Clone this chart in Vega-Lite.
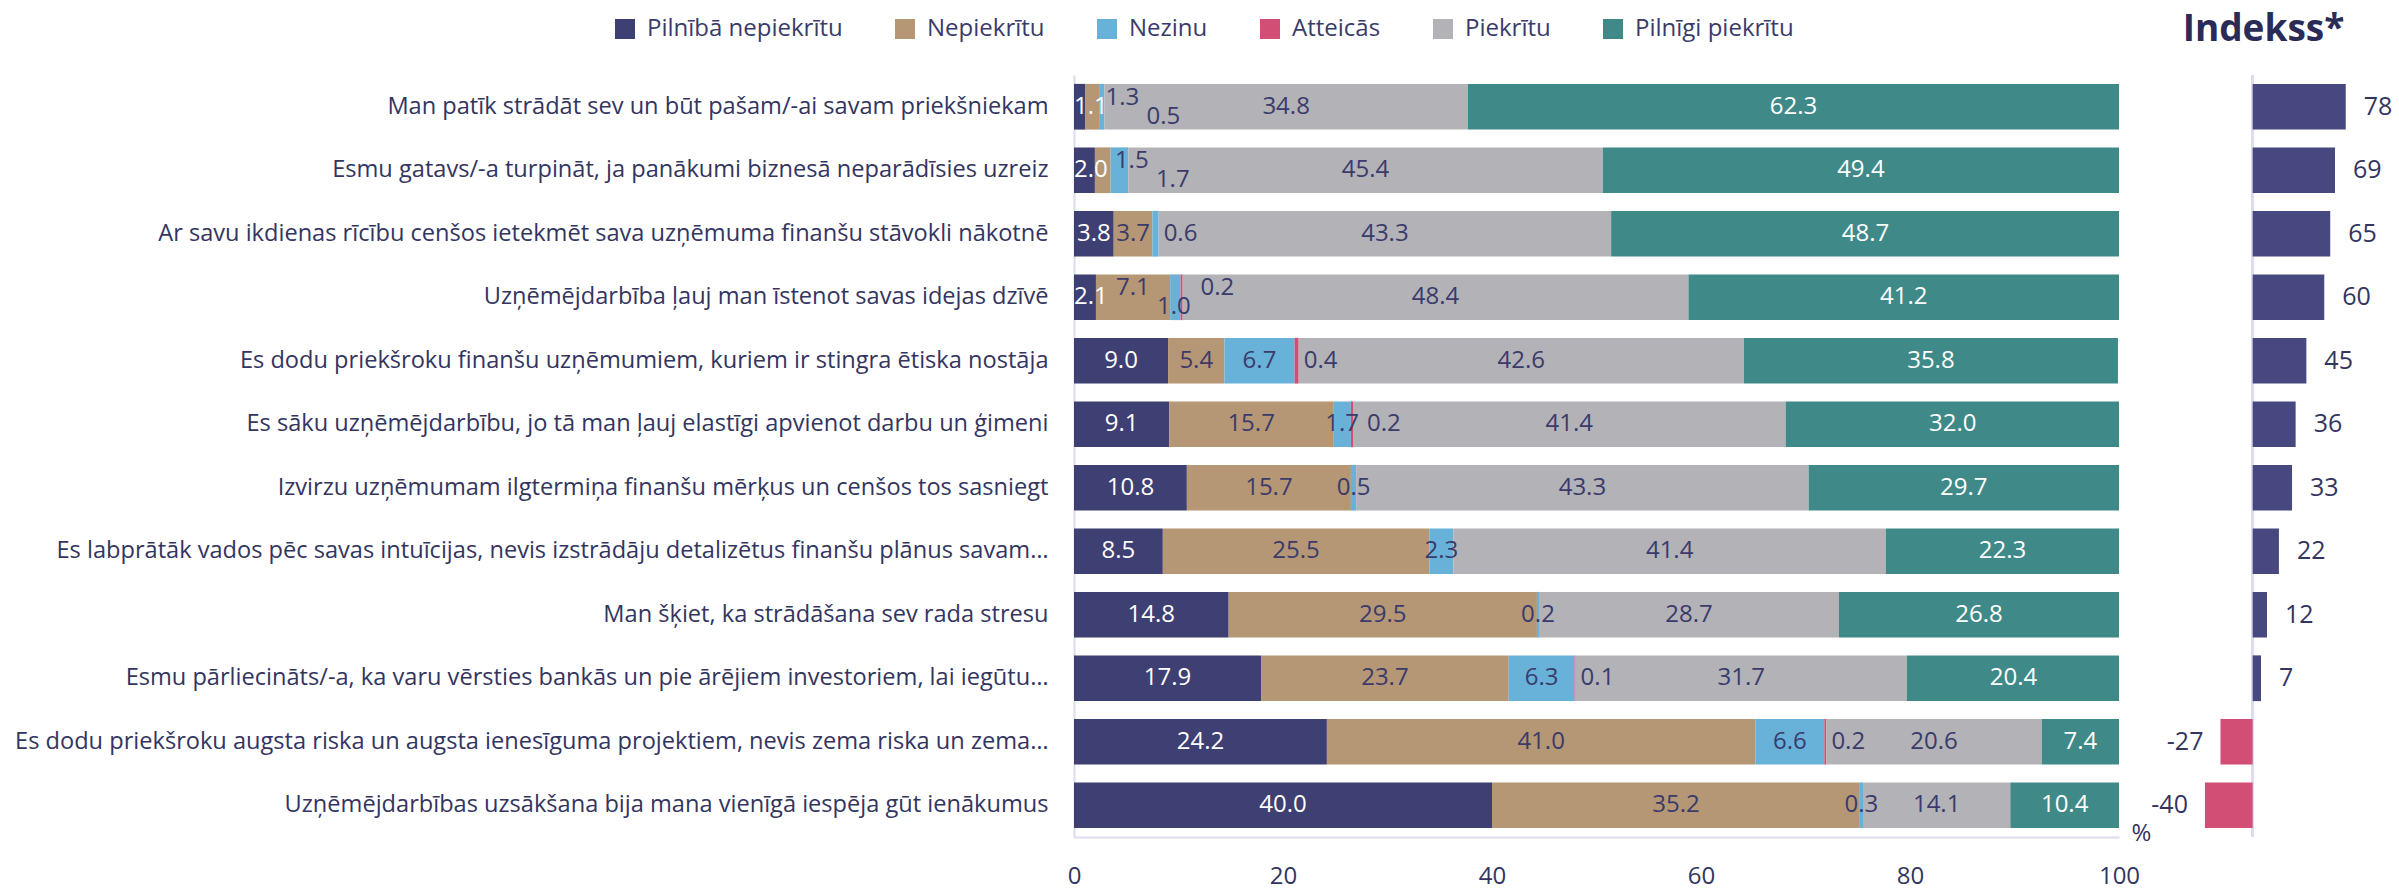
{
  "$schema": "https://vega.github.io/schema/vega-lite/v6.json",
  "padding": {"left": 14, "top": 11, "right": 0, "bottom": 0},
  "background": "white",
  "bounds": "flush",
  "spacing": 74,
  "config": {"view": {"stroke": null}, "font": "Open Sans"},
  "datasets": {
    "survey": [
      {"statement": "Man patīk strādāt sev un būt pašam/-ai savam priekšniekam", "Pilnībā nepiekrītu": 1.1, "Nepiekrītu": 1.3, "Nezinu": 0.5, "Atteicās": 0, "Piekrītu": 34.8, "Pilnīgi piekrītu": 62.3, "Indekss": 78},
      {"statement": "Esmu gatavs/-a turpināt, ja panākumi biznesā neparādīsies uzreiz", "Pilnībā nepiekrītu": 2.0, "Nepiekrītu": 1.5, "Nezinu": 1.7, "Atteicās": 0, "Piekrītu": 45.4, "Pilnīgi piekrītu": 49.4, "Indekss": 69},
      {"statement": "Ar savu ikdienas rīcību cenšos ietekmēt sava uzņēmuma finanšu stāvokli nākotnē", "Pilnībā nepiekrītu": 3.8, "Nepiekrītu": 3.7, "Nezinu": 0.6, "Atteicās": 0, "Piekrītu": 43.3, "Pilnīgi piekrītu": 48.7, "Indekss": 65},
      {"statement": "Uzņēmējdarbība ļauj man īstenot savas idejas dzīvē", "Pilnībā nepiekrītu": 2.1, "Nepiekrītu": 7.1, "Nezinu": 1.0, "Atteicās": 0.2, "Piekrītu": 48.4, "Pilnīgi piekrītu": 41.2, "Indekss": 60},
      {"statement": "Es dodu priekšroku finanšu uzņēmumiem, kuriem ir stingra ētiska nostāja", "Pilnībā nepiekrītu": 9.0, "Nepiekrītu": 5.4, "Nezinu": 6.7, "Atteicās": 0.4, "Piekrītu": 42.6, "Pilnīgi piekrītu": 35.8, "Indekss": 45},
      {"statement": "Es sāku uzņēmējdarbību, jo tā man ļauj elastīgi apvienot darbu un ģimeni", "Pilnībā nepiekrītu": 9.1, "Nepiekrītu": 15.7, "Nezinu": 1.7, "Atteicās": 0.2, "Piekrītu": 41.4, "Pilnīgi piekrītu": 32.0, "Indekss": 36},
      {"statement": "Izvirzu uzņēmumam ilgtermiņa finanšu mērķus un cenšos tos sasniegt", "Pilnībā nepiekrītu": 10.8, "Nepiekrītu": 15.7, "Nezinu": 0.5, "Atteicās": 0, "Piekrītu": 43.3, "Pilnīgi piekrītu": 29.7, "Indekss": 33},
      {"statement": "Es labprātāk vados pēc savas intuīcijas, nevis izstrādāju detalizētus finanšu plānus savam…", "Pilnībā nepiekrītu": 8.5, "Nepiekrītu": 25.5, "Nezinu": 2.3, "Atteicās": 0, "Piekrītu": 41.4, "Pilnīgi piekrītu": 22.3, "Indekss": 22},
      {"statement": "Man šķiet, ka strādāšana sev rada stresu", "Pilnībā nepiekrītu": 14.8, "Nepiekrītu": 29.5, "Nezinu": 0.2, "Atteicās": 0, "Piekrītu": 28.7, "Pilnīgi piekrītu": 26.8, "Indekss": 12},
      {"statement": "Esmu pārliecināts/-a, ka varu vērsties bankās un pie ārējiem investoriem, lai iegūtu…", "Pilnībā nepiekrītu": 17.9, "Nepiekrītu": 23.7, "Nezinu": 6.3, "Atteicās": 0.1, "Piekrītu": 31.7, "Pilnīgi piekrītu": 20.4, "Indekss": 7},
      {"statement": "Es dodu priekšroku augsta riska un augsta ienesīguma projektiem, nevis zema riska un zema…", "Pilnībā nepiekrītu": 24.2, "Nepiekrītu": 41.0, "Nezinu": 6.6, "Atteicās": 0.2, "Piekrītu": 20.6, "Pilnīgi piekrītu": 7.4, "Indekss": -27},
      {"statement": "Uzņēmējdarbības uzsākšana bija mana vienīgā iespēja gūt ienākumus", "Pilnībā nepiekrītu": 40.0, "Nepiekrītu": 35.2, "Nezinu": 0.3, "Atteicās": 0, "Piekrītu": 14.1, "Pilnīgi piekrītu": 10.4, "Indekss": -40}
    ]
  },
  "hconcat": [
    {
      "width": 1045,
      "height": 762,
      "data": {"name": "survey"},
      "transform": [
        {"fold": ["Pilnībā nepiekrītu", "Nepiekrītu", "Nezinu", "Atteicās", "Piekrītu", "Pilnīgi piekrītu"], "as": ["cat", "value"]},
        {"calculate": "indexof(['Pilnībā nepiekrītu', 'Nepiekrītu', 'Nezinu', 'Atteicās', 'Piekrītu', 'Pilnīgi piekrītu'], datum.cat)", "as": "ord"},
        {"stack": "value", "groupby": ["statement"], "sort": [{"field": "ord", "order": "ascending"}], "as": ["x0", "x1"]},
        {"calculate": "(datum.x0 + datum.x1) / 2", "as": "mid"}
      ],
      "encoding": {
        "y": {
          "field": "statement", "type": "nominal", "sort": null,
          "scale": {"paddingInner": 0.28, "paddingOuter": 0.14},
          "axis": {"title": null, "labelFontSize": 23.6, "labelFont": "Open Sans", "labelColor": "#33355f", "labelPadding": 26, "ticks": false, "domainColor": "#dcdcec", "domainWidth": 2, "labelLimit": 1100}
        }
      },
      "layer": [
        {
          "mark": {"type": "bar"},
          "encoding": {
            "x": {
              "field": "x0", "type": "quantitative", "title": "%",
              "scale": {"domain": [0, 100], "nice": false, "clamp": true},
              "axis": {"values": [0, 20, 40, 60, 80, 100], "grid": false, "ticks": false, "domainColor": "#dcdcec", "domainWidth": 2, "labelFontSize": 24, "labelFont": "Open Sans", "labelColor": "#33355f", "labelPadding": 27, "labelFlush": false, "title": "%", "titleX": 1057, "titleY": -4, "titleAlign": "left", "titleBaseline": "middle", "titleFontSize": 24, "titleFontWeight": "normal", "titleFont": "Open Sans", "titleColor": "#33355f"}
            },
            "x2": {"field": "x1"},
            "color": {
              "field": "cat", "type": "nominal",
              "scale": {
                "domain": ["Pilnībā nepiekrītu", "Nepiekrītu", "Nezinu", "Atteicās", "Piekrītu", "Pilnīgi piekrītu"],
                "range": ["#3e3f72", "#b59775", "#68b2da", "#d34e74", "#b3b2b7", "#3f8a89"]
              },
              "legend": {"orient": "none", "legendX": -461, "legendY": -58, "direction": "horizontal", "columns": 6, "title": null, "symbolType": "square", "symbolSize": 400, "symbolStrokeWidth": 0, "symbolOpacity": 1, "labelFontSize": 24, "labelFont": "Open Sans", "labelColor": "#3a3b6b", "columnPadding": 50, "labelOffset": 10, "labelLimit": 400}
            }
          }
        },
        {
          "transform": [{"filter": "datum.value > 0 && !(datum.cat === 'Pilnībā nepiekrītu' && datum.value < 3) && datum.cat !== 'Atteicās' && !(datum['Pilnībā nepiekrītu'] < 3 && (datum.cat === 'Nepiekrītu' || datum.cat === 'Nezinu')) && !(datum.cat === 'Nezinu' && datum.value < 1 && datum['Nepiekrītu'] < 5)"}],
          "mark": {"type": "text", "fontSize": 24, "font": "Open Sans", "baseline": "middle", "align": "center"},
          "encoding": {
            "x": {"field": "mid", "type": "quantitative", "title": "%"},
            "text": {"field": "value", "type": "quantitative", "format": ".1f"},
            "color": {"condition": {"test": "datum.cat === 'Pilnībā nepiekrītu' || datum.cat === 'Pilnīgi piekrītu'", "value": "#ffffff"}, "value": "#3a3b6b"}
          }
        },
        {
          "transform": [{"filter": "datum.cat === 'Pilnībā nepiekrītu' && datum.value > 0 && datum.value < 3"}],
          "mark": {"type": "text", "fontSize": 24, "font": "Open Sans", "baseline": "middle", "align": "left", "color": "#ffffff"},
          "encoding": {
            "x": {"field": "x0", "type": "quantitative", "title": "%"},
            "text": {"field": "value", "type": "quantitative", "format": ".1f"}
          }
        },
        {
          "transform": [{"filter": "(datum.cat === 'Atteicās' && datum.value > 0 && datum['Pilnībā nepiekrītu'] >= 3 && datum['Nezinu'] >= 3) || (datum.cat === 'Nezinu' && datum.value > 0 && datum.value < 1 && datum['Nepiekrītu'] < 5 && datum['Pilnībā nepiekrītu'] >= 3)"}],
          "mark": {"type": "text", "fontSize": 24, "font": "Open Sans", "baseline": "middle", "align": "left", "dx": 5, "color": "#3a3b6b"},
          "encoding": {
            "x": {"field": "x1", "type": "quantitative", "title": "%"},
            "text": {"field": "value", "type": "quantitative", "format": ".1f"}
          }
        },
        {
          "transform": [{"filter": "datum.cat === 'Atteicās' && datum.value > 0 && datum['Pilnībā nepiekrītu'] >= 3 && datum['Nezinu'] < 3"}],
          "mark": {"type": "text", "fontSize": 24, "font": "Open Sans", "baseline": "middle", "align": "left", "dx": 14, "color": "#3a3b6b"},
          "encoding": {
            "x": {"field": "x1", "type": "quantitative", "title": "%"},
            "text": {"field": "value", "type": "quantitative", "format": ".1f"}
          }
        },
        {
          "transform": [{"filter": "datum.value > 0 && datum['Pilnībā nepiekrītu'] < 3 && (datum.cat === 'Nepiekrītu' || datum.cat === 'Atteicās')"}],
          "mark": {"type": "text", "fontSize": 24, "font": "Open Sans", "baseline": "middle", "align": "left", "dx": 20, "dy": -9, "color": "#3a3b6b"},
          "encoding": {
            "x": {"field": "x0", "type": "quantitative", "title": "%"},
            "text": {"field": "value", "type": "quantitative", "format": ".1f"}
          }
        },
        {
          "transform": [{"filter": "datum.value > 0 && datum['Pilnībā nepiekrītu'] < 3 && datum.cat === 'Nezinu'"}],
          "mark": {"type": "text", "fontSize": 24, "font": "Open Sans", "baseline": "middle", "align": "left", "dx": 61, "dy": 10, "color": "#3a3b6b"},
          "encoding": {
            "x": {"field": "Pilnībā nepiekrītu", "type": "quantitative", "title": "%"},
            "text": {"field": "value", "type": "quantitative", "format": ".1f"}
          }
        }
      ]
    },
    {
      "width": 179,
      "height": 762,
      "data": {"name": "survey"},
      "title": {"text": "Indekss*", "fontSize": 37, "fontWeight": "bold", "font": "Open Sans", "color": "#2b2b57", "anchor": "middle", "dx": -19, "offset": 25},
      "layer": [
        {
          "mark": {"type": "rule", "color": "#dcdcee", "strokeWidth": 2},
          "encoding": {
            "x": {"datum": 0, "type": "quantitative", "scale": {"domain": [-50, 100], "nice": false}, "axis": null}
          }
        },
        {
          "mark": {"type": "bar"},
          "encoding": {
            "y": {"field": "statement", "type": "nominal", "sort": null, "scale": {"paddingInner": 0.28, "paddingOuter": 0.14}, "axis": null},
            "x": {"field": "Indekss", "type": "quantitative", "scale": {"domain": [-50, 100], "nice": false}, "axis": null},
            "color": {"condition": {"test": "datum.Indekss < 0", "value": "#d34e74"}, "value": "#46487f"}
          }
        },
        {
          "transform": [{"filter": "datum.Indekss >= 0"}],
          "mark": {"type": "text", "fontSize": 25, "font": "Open Sans", "baseline": "middle", "align": "left", "dx": 18, "color": "#33355f"},
          "encoding": {
            "y": {"field": "statement", "type": "nominal", "sort": null, "axis": null},
            "x": {"field": "Indekss", "type": "quantitative", "axis": null},
            "text": {"field": "Indekss", "type": "nominal"}
          }
        },
        {
          "transform": [{"filter": "datum.Indekss < 0"}],
          "mark": {"type": "text", "fontSize": 25, "font": "Open Sans", "baseline": "middle", "align": "right", "dx": -17, "color": "#33355f"},
          "encoding": {
            "y": {"field": "statement", "type": "nominal", "sort": null, "axis": null},
            "x": {"field": "Indekss", "type": "quantitative", "axis": null},
            "text": {"field": "Indekss", "type": "nominal"}
          }
        }
      ]
    }
  ]
}
